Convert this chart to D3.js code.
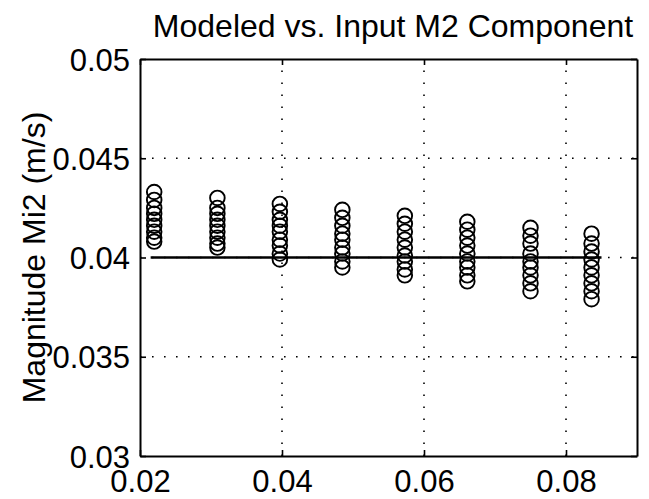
<!DOCTYPE html>
<html>
<head>
<meta charset="utf-8">
<script src="https://cdn.jsdelivr.net/npm/d3@7"></script>
<style>
  html, body { margin: 0; padding: 0; background: #fff; }
  svg text { font-family: "Liberation Sans", Arial, Helvetica, sans-serif; fill: #000; }
</style>
</head>
<body>
<svg id="chart" width="649" height="499"></svg>
<script>
// ---- data ----
const titleText = "Modeled vs. Input M2 Component";
const yLabelText = "Magnitude Mi2 (m/s)";
const xTicks = [0.02, 0.04, 0.06, 0.08];
const xTickLabels = ["0.02", "0.04", "0.06", "0.08"];
const yTicks = [0.03, 0.035, 0.04, 0.045, 0.05];
const yTickLabels = ["0.03", "0.035", "0.04", "0.045", "0.05"];
const columnX = [0.0220, 0.0309, 0.0397, 0.0485, 0.0573, 0.0661, 0.0750, 0.0836];
const col1 = [0.0433, 0.0429, 0.0425, 0.0422, 0.0419, 0.0416, 0.0413, 0.0410, 0.0408];
const col2 = [0.0430, 0.0425, 0.0422, 0.0419, 0.0416, 0.0413, 0.0410, 0.0407, 0.0405];
const col3 = [0.0427, 0.0423, 0.0419, 0.0416, 0.0413, 0.0409, 0.0406, 0.0402, 0.0399];
const col4 = [0.0424, 0.0420, 0.0416, 0.0412, 0.0409, 0.0405, 0.0402, 0.0398, 0.0395];
const col5 = [0.0421, 0.0417, 0.0413, 0.0409, 0.0405, 0.0401, 0.0398, 0.0394, 0.0391];
const col6 = [0.0418, 0.0414, 0.0410, 0.0406, 0.0402, 0.0398, 0.0395, 0.0391, 0.0388];
const col7 = [0.0415, 0.0411, 0.0407, 0.0402, 0.0398, 0.0395, 0.0391, 0.0387, 0.0383];
const col8 = [0.0412, 0.0407, 0.0403, 0.0399, 0.0395, 0.0391, 0.0387, 0.0383, 0.0379];
const inputX = [0.0215, 0.0850];
const inputY = [0.04, 0.04];

// ---- layout ----
const svg = d3.select("#chart");
const L = 140, R = 637, T = 59, B = 456;
const x = d3.scaleLinear().domain([0.02, 0.09]).range([L, R]);
const y = d3.scaleLinear().domain([0.03, 0.05]).range([B, T]);

// grid (dotted)
const grid = svg.append("g").attr("stroke", "#000").attr("stroke-width", 1.6)
  .attr("stroke-dasharray", "1.6,10.4").attr("fill", "none");
xTicks.filter(v => v > 0.02).forEach(v => {
  grid.append("line").attr("x1", x(v)).attr("x2", x(v)).attr("y1", B).attr("y2", T);
});
yTicks.filter(v => v > 0.03 && v < 0.05).forEach(v => {
  grid.append("line").attr("x1", L).attr("x2", R).attr("y1", y(v)).attr("y2", y(v));
});

// axes with inward ticks (MATLAB style box)
const fs = 31;
const xAxisB = d3.axisBottom(x).tickValues(xTicks).tickSizeInner(-6).tickSizeOuter(0)
  .tickPadding(14).tickFormat((d, i) => xTickLabels[i]);
const gxb = svg.append("g").attr("transform", `translate(0,${B})`).call(xAxisB);
const xAxisT = d3.axisTop(x).tickValues(xTicks).tickSizeInner(-6).tickSizeOuter(0).tickFormat("");
const gxt = svg.append("g").attr("transform", `translate(0,${T})`).call(xAxisT);
const yAxisL = d3.axisLeft(y).tickValues(yTicks).tickSizeInner(-6).tickSizeOuter(0)
  .tickPadding(10).tickFormat((d, i) => yTickLabels[i]);
const gyl = svg.append("g").attr("transform", `translate(${L},0)`).call(yAxisL);
const yAxisR = d3.axisRight(y).tickValues(yTicks).tickSizeInner(-6).tickSizeOuter(0).tickFormat("");
const gyr = svg.append("g").attr("transform", `translate(${R},0)`).call(yAxisR);

[gxb, gxt, gyl, gyr].forEach(g => {
  g.select(".domain").attr("stroke", "#000").attr("stroke-width", 2);
  g.selectAll(".tick line").attr("stroke", "#000").attr("stroke-width", 1.6);
  g.selectAll("text").attr("font-size", fs).attr("font-family", "Liberation Sans, Arial, sans-serif").attr("fill", "#000");
});
gxb.selectAll("text").attr("dy", "0.71em");
gyl.selectAll("text").attr("dy", "0.36em");

// input reference line
svg.append("path")
  .datum(inputX.map((v, i) => [v, inputY[i]]))
  .attr("d", d3.line().x(d => x(d[0])).y(d => y(d[1])))
  .attr("stroke", "#000").attr("stroke-width", 2.4).attr("fill", "none");

// modeled points (open circles)
const columns = [col1, col2, col3, col4, col5, col6, col7, col8];
const pts = [];
columns.forEach((col, i) => col.forEach(v => pts.push([columnX[i], v])));
svg.append("g").selectAll("circle").data(pts).join("circle")
  .attr("cx", d => x(d[0])).attr("cy", d => y(d[1])).attr("r", 7.3)
  .attr("fill", "none").attr("stroke", "#000").attr("stroke-width", 1.9);

// title
svg.append("text").attr("x", 393).attr("y", 37)
  .attr("text-anchor", "middle").attr("font-size", 32).text(titleText);

// y label
svg.append("text").attr("transform", `translate(45,${(T + B) / 2}) rotate(-90)`)
  .attr("text-anchor", "middle").attr("font-size", 32).text(yLabelText);
</script>
</body>
</html>
